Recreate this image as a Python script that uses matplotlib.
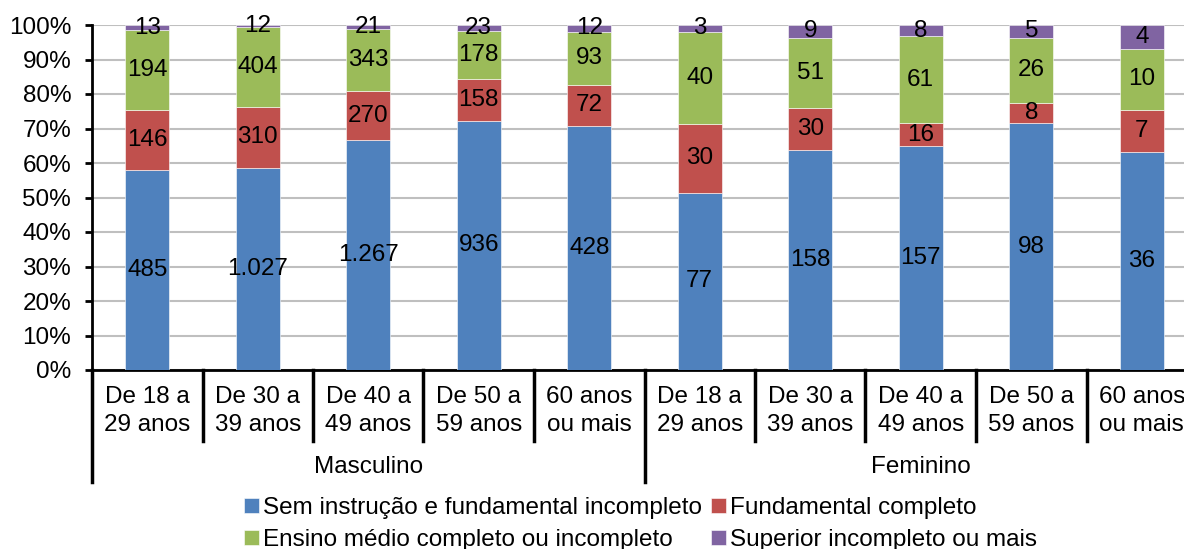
import matplotlib.pyplot as plt
import matplotlib.transforms as mtransforms
import numpy as np

plt.rcParams['font.family'] = ['Liberation Sans', 'DejaVu Sans']

# counts per age group, men first then women
faixas = ['De 18 a\n29 anos', 'De 30 a\n39 anos', 'De 40 a\n49 anos',
          'De 50 a\n59 anos', '60 anos\nou mais']
categorias = faixas + faixas
grupos = ['Masculino', 'Feminino']

sem_instrucao = [485, 1027, 1267, 936, 428, 77, 158, 157, 98, 36]
fund_completo = [146, 310, 270, 158, 72, 30, 30, 16, 8, 7]
medio = [194, 404, 343, 178, 93, 40, 51, 61, 26, 10]
superior = [13, 12, 21, 23, 12, 3, 9, 8, 5, 4]

series = [sem_instrucao, fund_completo, medio, superior]
nomes = ['Sem instrução e fundamental incompleto', 'Fundamental completo',
         'Ensino médio completo ou incompleto', 'Superior incompleto ou mais']
cores = ['#4F81BD', '#C0504D', '#9BBB59', '#8064A2']

FS = 17.5


def fmt(v):
    return f'{v:,}'.replace(',', '.')


fig = plt.figure(figsize=(11.84, 5.49), dpi=100)
ax = fig.add_axes([92 / 1184, 1 - 370 / 549, 1105 / 1184, 345 / 549])

dados = np.array(series, dtype=float)
totais = dados.sum(axis=0)
pct = dados / totais * 100
x = np.arange(len(categorias))

base = np.zeros(len(categorias))
handles = []
for i in range(len(series)):
    b = ax.bar(x, pct[i], 0.4, bottom=base, color=cores[i],
               edgecolor='white', linewidth=0.4, zorder=3)
    handles.append(b)
    for j in range(len(x)):
        ax.text(x[j], base[j] + pct[i][j] / 2, fmt(series[i][j]),
                ha='center', va='center', fontsize=FS, zorder=4)
    base += pct[i]

ax.set_xlim(-0.5, len(x) - 0.5)
ax.set_ylim(0, 100)
ax.set_yticks(np.arange(0, 101, 10))
ax.set_yticklabels([f'{v}%' for v in range(0, 101, 10)], fontsize=FS)
ax.yaxis.grid(True, color='#BFBFBF', linewidth=1.5, zorder=0)
ax.tick_params(axis='y', length=5, width=2, pad=10)
ax.set_xticks([])
for s in ['top', 'right']:
    ax.spines[s].set_visible(False)
ax.spines['left'].set_linewidth(2)
ax.spines['bottom'].set_linewidth(2)

# category labels and separators under the axis
trans = mtransforms.blended_transform_factory(ax.transData, ax.transAxes)
for j, lab in enumerate(categorias):
    ax.text(x[j], -0.12, lab, transform=trans, ha='center', va='center',
            fontsize=FS, linespacing=1.35)
for k in range(len(x) + 1):
    pos = k - 0.5
    fim = -0.325 if k % 5 == 0 else -0.205
    ax.plot([pos, pos], [0, fim], transform=trans, color='black',
            linewidth=2.5, clip_on=False)
for g, nome in enumerate(grupos):
    ax.text(g * 5 + 2, -0.28, nome, transform=trans, ha='center',
            va='center', fontsize=FS)

ordem = [0, 2, 1, 3]
fig.legend([handles[i] for i in ordem], [nomes[i] for i in ordem],
           ncol=2, loc='center', bbox_to_anchor=(0.541, 0.0455),
           frameon=False, fontsize=FS, handlelength=0.6, handleheight=0.6,
           handletextpad=0.15, columnspacing=0.4, labelspacing=0.42,
           borderpad=0.2)

fig.savefig('out.png', dpi=100)
